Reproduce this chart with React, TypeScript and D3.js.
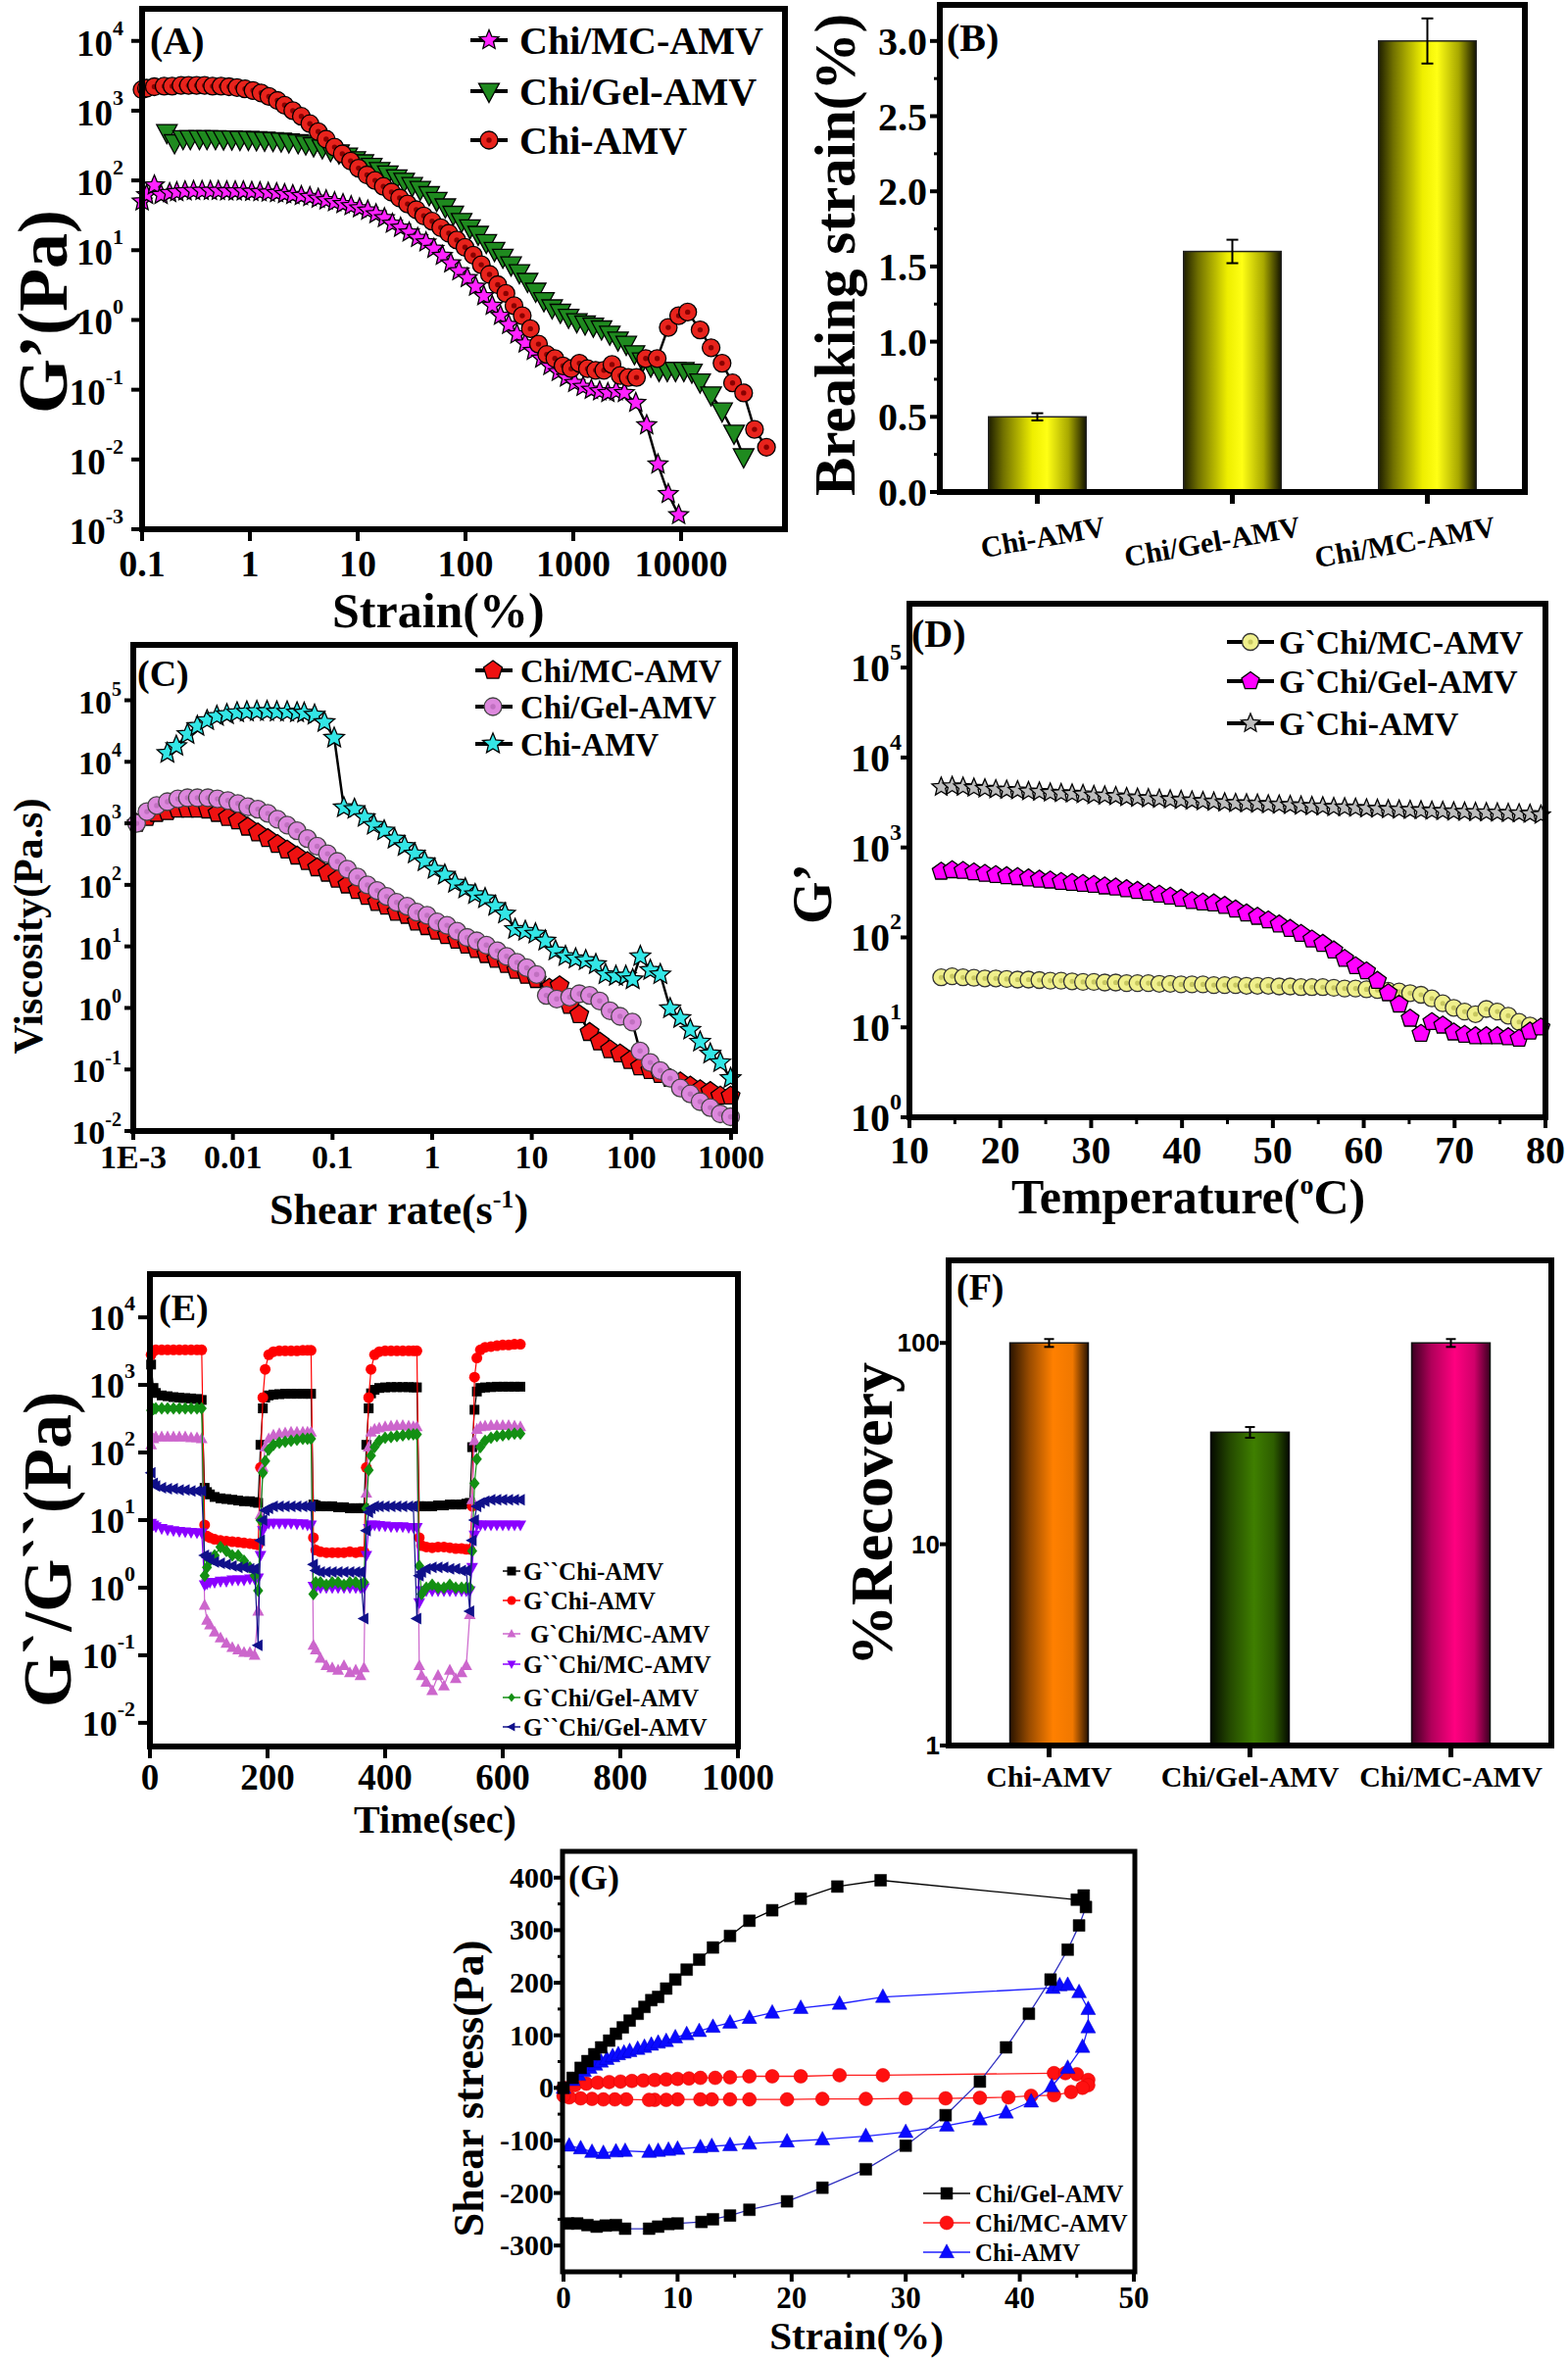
import React from "react";
import * as d3 from "d3";

type Pt = [number, number];
const SERIF = "'Liberation Serif','Times New Roman',Times,serif";
const SANS = "'Liberation Sans',Arial,Helvetica,sans-serif";

// ---------------- Panel A data ----------------
const aLegend = ["Chi/MC-AMV", "Chi/Gel-AMV", "Chi-AMV"];
const aXTicks = [0.1, 1, 10, 100, 1000, 10000];
const aXTickLabels = ["0.1", "1", "10", "100", "1000", "10000"];
const aYExp = [-3, -2, -1, 0, 1, 2, 3, 4];
const aMC: Pt[] = [[0.1,50],[0.11,62],[0.13,85],[0.15,62],[0.18,66],[0.21,68],[0.25,70],[0.3,71],[0.36,71],[0.43,71],[0.51,71],[0.61,70],[0.73,70],[0.87,70],[1.04,69],[1.24,68],[1.48,67],[1.77,66],[2.1,64],[2.5,62],[3.0,60],[3.6,58],[4.3,55],[5.1,52],[6.1,49],[7.3,46],[8.7,43],[10.4,40],[12.4,37],[14.8,33],[17.7,29],[21,24],[25,21],[30,18],[36,15],[43,13],[51,10.5],[61,8.3],[73,6.5],[87,5],[104,4],[124,3],[148,2.2],[177,1.6],[211,1.15],[252,0.85],[300,0.62],[358,0.46],[427,0.36],[510,0.28],[608,0.22],[726,0.18],[866,0.15],[1033,0.125],[1233,0.11],[1471,0.1],[1755,0.095],[2094,0.09],[2499,0.095],[2982,0.09],[3800,0.065],[4800,0.031],[6100,0.0085],[7600,0.0032],[9500,0.0016]];
const aGel: Pt[] = [[0.17,490],[0.2,350],[0.24,400],[0.28,400],[0.34,400],[0.4,400],[0.48,400],[0.57,395],[0.68,395],[0.81,390],[0.97,390],[1.15,385],[1.37,380],[1.64,375],[1.95,370],[2.3,360],[2.8,350],[3.3,335],[3.9,315],[4.7,295],[5.6,270],[6.7,250],[8,225],[9.5,200],[11.3,180],[13.5,160],[16,140],[19,125],[23,110],[27,98],[32,85],[38,75],[46,63],[54,52],[65,42],[77,33],[92,26],[110,21],[131,17],[156,13],[186,10],[222,8],[265,6.2],[316,4.8],[376,3.6],[448,2.6],[534,1.9],[637,1.5],[759,1.3],[905,1.1],[1079,0.95],[1286,0.88],[1533,0.82],[1827,0.75],[2178,0.63],[2596,0.52],[3095,0.45],[3690,0.33],[4400,0.26],[5240,0.22],[6250,0.19],[7450,0.19],[8880,0.19],[10600,0.19],[12600,0.18],[15000,0.13],[19000,0.085],[24000,0.05],[31000,0.024],[38000,0.011]];
const aChi: Pt[] = [[0.1,2000],[0.11,2100],[0.13,2200],[0.16,2250],[0.19,2250],[0.23,2300],[0.27,2300],[0.32,2300],[0.38,2300],[0.45,2250],[0.54,2250],[0.64,2200],[0.76,2150],[0.9,2050],[1.07,1950],[1.27,1800],[1.5,1600],[1.8,1400],[2.1,1200],[2.5,1000],[3,830],[3.6,650],[4.3,500],[5.1,390],[6.1,300],[7.2,240],[8.6,190],[10.2,150],[12.2,120],[14.5,100],[17.3,82],[20.6,68],[24.5,56],[29,46],[35,38],[41,31],[49,26],[59,21],[70,17.5],[83,14],[99,11],[118,8.5],[140,6.2],[167,4.5],[199,3.2],[237,2.4],[282,1.6],[336,1.15],[400,0.75],[476,0.45],[567,0.32],[675,0.28],[803,0.22],[956,0.2],[1138,0.24],[1355,0.2],[1613,0.19],[1920,0.19],[2286,0.23],[2721,0.16],[3239,0.15],[3856,0.15],[4700,0.28],[6000,0.28],[7600,0.78],[9500,1.15],[11500,1.3],[15000,0.72],[19000,0.4],[24000,0.24],[30000,0.125],[38000,0.09],[48000,0.027],[62000,0.015]];

// ---------------- Panel B data ----------------
const bCats = ["Chi-AMV", "Chi/Gel-AMV", "Chi/MC-AMV"];
const bVals = [0.5, 1.6, 3.0];
const bErr = [0.024, 0.078, 0.15];
const bYTicks = [0, 0.5, 1, 1.5, 2, 2.5, 3];
const bYTickLabels = ["0.0", "0.5", "1.0", "1.5", "2.0", "2.5", "3.0"];
const bYMinor = [0.25, 0.75, 1.25, 1.75, 2.25, 2.75];

// ---------------- Panel C data ----------------
const cLegend = ["Chi/MC-AMV", "Chi/Gel-AMV", "Chi-AMV"];
const cXTicks = [0.001, 0.01, 0.1, 1, 10, 100, 1000];
const cXTickLabels = ["1E-3", "0.01", "0.1", "1", "10", "100", "1000"];
const cYExp = [-2, -1, 0, 1, 2, 3, 4, 5];
const cMC: Pt[] = [[0.00108,1000],[0.00137,1250],[0.00172,1450],[0.0022,1550],[0.0028,1700],[0.0035,1700],[0.0044,1700],[0.0056,1650],[0.007,1450],[0.0089,1250],[0.0112,1100],[0.0141,870],[0.0178,700],[0.0224,565],[0.028,455],[0.035,370],[0.044,295],[0.056,240],[0.07,190],[0.089,155],[0.112,124],[0.141,100],[0.178,81],[0.224,65],[0.28,52],[0.35,45],[0.44,36],[0.56,32],[0.7,25],[0.89,21],[1.12,17.7],[1.41,15],[1.78,12.6],[2.24,10.5],[2.8,8.9],[3.5,7.4],[4.4,6.2],[5.6,5.1],[7,4.1],[8.9,3.4],[11.2,2.9],[15,2.1],[19,2.3],[24,1.1],[30,0.78],[38,0.4],[48,0.28],[61,0.21],[77,0.18],[97,0.14],[122,0.11],[155,0.096],[195,0.083],[245,0.072],[310,0.063],[390,0.054],[490,0.047],[620,0.044],[780,0.037],[990,0.037]];
const cGel: Pt[] = [[0.00108,1000],[0.00137,1550],[0.00172,1950],[0.0022,2250],[0.0028,2500],[0.0035,2600],[0.0044,2600],[0.0056,2600],[0.007,2500],[0.0089,2350],[0.0112,2100],[0.0141,1860],[0.0178,1700],[0.0224,1450],[0.028,1170],[0.035,940],[0.044,760],[0.056,565],[0.07,425],[0.089,320],[0.112,240],[0.141,180],[0.178,134],[0.224,100],[0.28,81],[0.35,65],[0.44,52],[0.56,45],[0.7,36],[0.89,32],[1.12,25],[1.41,22],[1.78,17.7],[2.24,14],[2.8,12.3],[3.5,10.5],[4.5,8.5],[5.6,6.9],[7.1,5.5],[8.9,4.5],[11.2,3.5],[14,1.6],[17.8,1.4],[24,1.5],[30,1.7],[38,1.6],[48,1.3],[61,0.9],[77,0.73],[102,0.59],[122,0.2],[155,0.13],[195,0.096],[245,0.072],[310,0.05],[390,0.04],[490,0.03],[620,0.024],[780,0.019],[990,0.017]];
const cChi: Pt[] = [[0.0022,13800],[0.0027,18000],[0.0035,28000],[0.0044,38000],[0.0055,47000],[0.0069,55000],[0.0087,59000],[0.011,63000],[0.0138,65000],[0.0174,66000],[0.022,66000],[0.0276,65000],[0.035,65000],[0.044,63000],[0.052,62000],[0.066,58000],[0.083,44000],[0.104,24500],[0.13,1800],[0.166,1700],[0.21,1260],[0.26,940],[0.33,760],[0.42,560],[0.53,425],[0.67,320],[0.84,240],[1.06,180],[1.34,145],[1.7,107],[2.15,87],[2.7,70],[3.4,60],[4.3,45],[5.4,34],[6.8,19],[8.6,17.7],[10.9,16],[13.7,12.3],[17.3,8.5],[21.8,6.9],[27.6,6.3],[34.8,5.9],[44,5.1],[55,3.5],[70,3.3],[88,3.3],[103,2.9],[123,6.9],[155,4.1],[195,3.5],[245,0.98],[310,0.68],[390,0.44],[490,0.28],[620,0.18],[780,0.13],[990,0.072]];

// ---------------- Panel D data ----------------
const dLegend = ["G`Chi/MC-AMV", "G`Chi/Gel-AMV", "G`Chi-AMV"];
const dXTicks = [10, 20, 30, 40, 50, 60, 70, 80];
const dXMinor = [15, 25, 35, 45, 55, 65, 75];
const dYExp = [0, 1, 2, 3, 4, 5];
const dChi: Pt[] = [[13.5,4700],[14.7,4800],[15.9,4700],[17.1,4600],[18.3,4500],[19.5,4400],[20.7,4350],[21.9,4300],[23.1,4200],[24.3,4150],[25.5,4050],[26.7,4000],[27.9,3950],[29.1,3900],[30.3,3800],[31.5,3750],[32.7,3700],[33.9,3600],[35.1,3550],[36.3,3500],[37.5,3450],[38.7,3400],[39.9,3350],[41.1,3300],[42.3,3250],[43.5,3200],[44.7,3150],[45.9,3100],[47.1,3080],[48.3,3050],[49.5,3000],[50.7,2980],[51.9,2950],[53.1,2900],[54.3,2870],[55.5,2850],[56.7,2800],[57.9,2780],[59.1,2750],[60.3,2700],[61.5,2680],[62.7,2650],[63.9,2630],[65.1,2600],[66.3,2580],[67.5,2550],[68.7,2530],[69.9,2500],[71.1,2480],[72.3,2460],[73.5,2450],[74.7,2430],[75.9,2400],[77.1,2380],[78.3,2350],[79.5,2300]];
const dGel: Pt[] = [[13.5,540],[14.7,560],[15.9,550],[17.1,530],[18.3,510],[19.5,495],[20.7,480],[21.9,470],[23.1,455],[24.3,440],[25.5,430],[26.7,415],[27.9,405],[29.1,395],[30.3,385],[31.5,370],[32.7,360],[33.9,345],[35.1,330],[36.3,315],[37.5,300],[38.7,285],[39.9,270],[41.1,255],[42.3,245],[43.5,240],[44.7,225],[45.9,205],[47.1,185],[48.3,170],[49.5,155],[50.7,140],[51.9,125],[53.1,110],[54.3,95],[55.5,85],[56.7,72],[57.9,58],[59.1,48],[60.3,42],[61.5,33],[62.7,24],[63.9,18],[65.1,12.5],[66.3,8.5],[67.5,11.5],[68.7,10.5],[69.9,8.8],[71.1,8.3],[72.3,8],[73.5,8],[74.7,8],[75.9,7.8],[77.1,7.5],[78.3,9],[79.5,10]];
const dMC: Pt[] = [[13.5,36],[14.7,37],[15.9,36],[17.1,35.5],[18.3,35],[19.5,35],[20.7,34.5],[21.9,34],[23.1,34],[24.3,33.5],[25.5,33],[26.7,33],[27.9,32.5],[29.1,32],[30.3,32],[31.5,31.5],[32.7,31.5],[33.9,31],[35.1,31],[36.3,31],[37.5,30.5],[38.7,30.5],[39.9,30],[41.1,30],[42.3,30],[43.5,29.5],[44.7,29.5],[45.9,29.5],[47.1,29],[48.3,29],[49.5,29],[50.7,28.5],[51.9,28.5],[53.1,28],[54.3,28],[55.5,28],[56.7,27.5],[57.9,27],[59.1,27],[60.3,26.5],[61.5,26],[62.7,25.5],[63.9,25],[65.1,24],[66.3,23],[67.5,21],[68.7,18.5],[69.9,16.5],[71.1,15],[72.3,14],[73.5,16],[74.7,15],[75.9,13.5],[77.1,11.5],[78.3,10.5]];

// ---------------- Panel E data ----------------
const eLegend = ["G``Chi-AMV", "G`Chi-AMV", "G`Chi/MC-AMV", "G``Chi/MC-AMV", "G`Chi/Gel-AMV", "G``Chi/Gel-AMV"];
const eXTicks = [0, 200, 400, 600, 800, 1000];
const eYExp = [-2, -1, 0, 1, 2, 3, 4];
const eTime = [2,6,10,20,30,40,50,60,70,80,88, 93,97,102,110,120,130,140,150,160,170,178,184, 188,192,196,202,210,220,230,240,250,260,268,274, 278,282,290,300,310,320,330,340,350,358,364, 368,372,376,382,390,400,410,420,430,440,448,454, 458,462,470,480,490,500,510,520,530,538,544, 548,552,556,562,570,580,590,600,610,620,630];
const eGppChi = [2000,900,760,700,680,660,650,640,630,620,600, 30,26,24,22,21,20.5,20,19.5,19,19,18.5,18, 130,450,650,700,720,730,740,740,740,740,740,740, 17,16.5,16,16,16,15.5,15.5,15,15,15,15, 130,450,750,850,900,920,930,930,930,930,920,920, 16,16,16,16,16.5,16.5,17,17,17,17.5,18, 120,430,800,900,920,930,940,940,940,940,940];
const eGpChi = [2800,3200,3300,3300,3300,3300,3300,3300,3300,3300,3300, 8.5,5.8,5.5,5.2,5.0,4.9,4.8,4.7,4.6,4.5,4.4,4.3, 60,650,1700,2800,3100,3200,3200,3200,3200,3250,3250,3250, 5.5,3.6,3.4,3.3,3.3,3.3,3.3,3.4,3.3,3.4,3.4, 60,650,1700,2800,3100,3200,3200,3200,3200,3200,3200,3200, 5.5,4.2,4.0,3.9,4.0,4.0,3.9,3.8,3.8,3.7,3.7, 16,1300,2500,3300,3600,3700,3800,3900,3900,4000,4000];
const eGpMC = [130,160,170,170,170,170,170,170,165,165,160, 0.55,0.33,0.28,0.22,0.18,0.15,0.13,0.12,0.11,0.11,0.1,0.45, 12,60,120,160,180,190,195,200,200,200,200,200, 0.14,0.12,0.09,0.07,0.065,0.06,0.07,0.055,0.06,0.05,0.065, 25,120,200,220,230,240,245,250,250,245,240,240, 0.07,0.05,0.04,0.03,0.05,0.035,0.06,0.045,0.055,0.07,0.4, 20,150,220,240,245,250,250,250,250,245,240];
const eGppMC = [9,8.5,8,7.5,7.2,7,6.8,6.7,6.6,6.5,6.5, 1.1,1.15,1.2,1.2,1.25,1.25,1.3,1.3,1.3,1.35,1.35,1.4, 3,7,8.5,9,9,9,9,9,8.8,8.8,8.5,8.5, 1.05,1.0,1.0,1.0,1.0,1.0,1.0,1.0,1.0,1.0,1.0, 3,7.5,8.5,8.5,8.3,8.2,8,8,8,7.8,7.8,7.8, 0.6,0.9,0.9,0.9,0.9,0.9,0.9,0.9,0.9,0.9,0.9, 2,6,8.5,8.5,8.5,8.5,8.5,8.5,8.5,8.5,8.5];
const eGpGel = [420,440,450,450,450,450,450,450,450,450,450, 1.5,2,2.5,3,4,3.5,3,3,2.5,2,1.5,0.9, 10,50,75,110,130,140,145,150,155,160,160,160, 0.8,1.2,1.2,1.1,1.2,1.2,1.1,1.2,1.2,1.1,1.2, 15,55,90,120,150,165,170,175,180,185,185,185, 2.1,0.8,1.0,1.1,1.0,1.0,1.1,1.0,1.0,1.0,1.0, 3.5,35,80,120,150,165,175,180,185,190,190];
const eGppGel = [50,35,32,30,29,29,28,28,27,27,27, 3,2.8,2.6,2.4,2.3,2.2,2.1,2.0,2.0,1.9,1.9,0.14, 5,10,14,15,16,16,16,16,16,16,16,16, 2.2,1.8,1.7,1.7,1.7,1.7,1.7,1.7,1.7,1.7,0.35, 7,13,15,16,16,16,16,16,16,16,16,0.35, 1.5,1.7,1.9,2.0,2.0,2.0,1.9,1.9,1.8,1.8,0.45, 5,10,16,18,19,20,20,20,20,20,20];

// ---------------- Panel F data ----------------
const fCats = ["Chi-AMV", "Chi/Gel-AMV", "Chi/MC-AMV"];
const fVals = [100, 36, 100];
const fErr = [4.5, 2.2, 4.5];
const fYTicks = [1, 10, 100];

// ---------------- Panel G data ----------------
const gLegend = ["Chi/Gel-AMV", "Chi/MC-AMV", "Chi-AMV"];
const gXTicks = [0, 10, 20, 30, 40, 50];
const gXMinor = [5, 15, 25, 35, 45];
const gYTicks = [-300, -200, -100, 0, 100, 200, 300, 400];
const gYMinor = [-250, -150, -50, 50, 150, 250, 350];
const gGel: Pt[] = [[0,0],[0.8,19],[1.5,38],[2.1,51],[2.7,64],[3.3,77],[4,90],[4.6,103],[5.2,115],[5.8,128],[6.5,141],[7.1,154],[7.7,167],[8.3,173],[9,189],[9.8,206],[10.8,225],[11.9,244],[13.1,267],[14.6,289],[16.3,318],[18.3,338],[20.8,360],[24,383],[27.8,395],[45,358],[45.6,366],[45.8,344],[45.2,309],[44.2,263],[42.7,206],[40.8,141],[38.8,77],[36.5,12],[33.5,-52],[30,-110],[26.5,-155],[22.7,-190],[19.6,-216],[16.3,-232],[14.6,-243],[13.1,-250],[12.1,-255],[10,-258],[9.2,-259],[8.3,-264],[7.5,-268],[5.4,-268],[4.6,-261],[3.7,-262],[2.9,-264],[2.1,-261],[1.2,-258],[0.4,-258]];
const gMC: Pt[] = [[0,0],[1,5],[2,8],[3,10],[4,11],[5,12],[6,13],[7,14],[8,15],[9,16],[10,17],[11,18],[12,19],[13.3,19],[14.6,20],[16.3,22],[18.3,22],[20.8,22],[24.2,24],[28,24],[43,28],[44,28],[45,26],[46,15],[46,5],[45.5,0],[44.5,-8],[43,-14],[41,-15],[39,-18],[36.5,-19],[33.5,-20],[30,-20],[26.5,-21],[22.7,-21],[19.6,-22],[16.3,-22],[14.6,-22],[13,-22],[12,-22],[10,-22],[9,-23],[8,-23],[7.5,-23],[5.5,-22],[4.5,-22],[3.5,-22],[2.5,-21],[1.5,-20],[0.5,-18],[0,-15]];
const gChi: Pt[] = [[0,0],[0.8,15],[1.3,25],[1.8,32],[2.3,38],[2.8,44],[3.3,50],[3.8,55],[4.3,60],[4.8,64],[5.3,67],[5.8,70],[6.5,74],[7.1,78],[7.7,82],[8.3,86],[9,89],[9.8,96],[10.8,102],[11.9,108],[13.1,116],[14.6,124],[16.3,133],[18.3,143],[20.8,152],[24.2,160],[28,173],[42.9,190],[43.5,195],[44.2,196],[45.2,182],[46,150],[46,115],[45.5,78],[44.2,38],[42.8,3],[41,-26],[38.8,-47],[36.5,-60],[33.6,-72],[30,-84],[26.5,-92],[22.7,-98],[19.6,-102],[16.3,-106],[14.6,-109],[13,-111],[12,-113],[10,-116],[9.2,-118],[8.3,-120],[7.5,-122],[5.4,-120],[4.6,-121],[3.5,-124],[2.5,-122],[1.5,-115],[0.5,-110]];

// ---------------- helpers ----------------
function poly(pts: number[][]): string {
  return "M" + pts.map((p) => p[0].toFixed(2) + "," + p[1].toFixed(2)).join("L") + "Z";
}
function shape(kind: string, s: number): string {
  const r = s / 2;
  switch (kind) {
    case "square": return poly([[-r, -r], [r, -r], [r, r], [-r, r]]);
    case "circle": return `M${r},0A${r},${r} 0 1,1 ${-r},0A${r},${r} 0 1,1 ${r},0Z`;
    case "triUp": return poly([[0, -r * 1.1], [r, r * 0.75], [-r, r * 0.75]]);
    case "triDown": return poly([[0, r * 1.1], [r, -r * 0.75], [-r, -r * 0.75]]);
    case "triLeft": return poly([[-r * 1.1, 0], [r * 0.75, -r], [r * 0.75, r]]);
    case "diamond": return poly([[0, -r], [r * 0.8, 0], [0, r], [-r * 0.8, 0]]);
    case "star": {
      const pts: number[][] = [];
      for (let i = 0; i < 10; i++) {
        const a = -Math.PI / 2 + (i * Math.PI) / 5;
        const rr = i % 2 === 0 ? r : r * 0.45;
        pts.push([rr * Math.cos(a), rr * Math.sin(a)]);
      }
      return poly(pts);
    }
    case "pentagon": {
      const pts: number[][] = [];
      for (let i = 0; i < 5; i++) {
        const a = -Math.PI / 2 + (i * 2 * Math.PI) / 5;
        pts.push([r * Math.cos(a), r * Math.sin(a)]);
      }
      return poly(pts);
    }
  }
  return "";
}

function Marks({ data, x, y, kind, size, fill, stroke = "#000", sw = 1.3, inner }: any) {
  const p = shape(kind, size);
  return (
    <g>
      {data.map((d: Pt, i: number) => (
        <g key={i} transform={`translate(${x(d[0]).toFixed(1)},${y(d[1]).toFixed(1)})`}>
          <path d={p} fill={fill} stroke={stroke} strokeWidth={sw} />
          {inner && <circle r={size * 0.15} fill={inner} />}
        </g>
      ))}
    </g>
  );
}
function Line({ data, x, y, color, w }: any) {
  const gen = d3.line<Pt>().x((d) => x(d[0])).y((d) => y(d[1]));
  return <path d={gen(data) || ""} fill="none" stroke={color} strokeWidth={w} strokeLinejoin="round" />;
}
function Series(props: any) {
  return (
    <g>
      {props.line && <Line data={props.data} x={props.x} y={props.y} color={props.line} w={props.lw || 2} />}
      <Marks {...props} />
    </g>
  );
}
function LogYLabels({ y, exps, xr, fs, efs, base, sup }: any) {
  return (
    <g>
      {exps.map((e: number) => (
        <text key={e} x={xr} y={y(Math.pow(10, e)) + base} textAnchor="end" fontSize={fs}>
          10<tspan dy={-sup} fontSize={efs}>{String(e)}</tspan>
        </text>
      ))}
    </g>
  );
}
function YTicks({ y, vals, x0, len, w = 4 }: any) {
  return <g>{vals.map((v: number, i: number) => <line key={i} x1={x0 - len} x2={x0} y1={y(v)} y2={y(v)} stroke="#000" strokeWidth={w} />)}</g>;
}
function XTicks({ x, vals, y0, len, w = 4 }: any) {
  return <g>{vals.map((v: any, i: number) => <line key={i} x1={x(v)} x2={x(v)} y1={y0} y2={y0 + len} stroke="#000" strokeWidth={w} />)}</g>;
}
function Frame({ x0, y0, x1, y1, w = 6 }: any) {
  return <rect x={x0} y={y0} width={x1 - x0} height={y1 - y0} fill="none" stroke="#000" strokeWidth={w} />;
}
function VLabel({ x, y, fs, children }: any) {
  return (
    <text transform={`translate(${x},${y}) rotate(-90)`} textAnchor="middle" fontSize={fs}>
      {children}
    </text>
  );
}
function LegendRow({ x, y, lineFrom, lineTo, kind, size, fill, stroke = "#000", sw = 1.3, line, lw = 3, text, tx, fs, base, inner }: any) {
  const p = shape(kind, size);
  return (
    <g>
      {line && <line x1={lineFrom} x2={lineTo} y1={y} y2={y} stroke={line} strokeWidth={lw} />}
      <g transform={`translate(${x},${y})`}>
        <path d={p} fill={fill} stroke={stroke} strokeWidth={sw} />
        {inner && <circle r={size * 0.15} fill={inner} />}
      </g>
      <text x={tx} y={y + base} fontSize={fs}>{text}</text>
    </g>
  );
}

// ---------------- Panels ----------------
function PanelA() {
  const x = d3.scaleLog().domain([0.1, 92000]).range([145, 801]);
  const y = d3.scaleLog().domain([1e-3, Math.pow(10, 4.46)]).range([540, 9]);
  const styles = [
    { kind: "star", size: 21, fill: "#ff22ff" },
    { kind: "triDown", size: 21, fill: "#1f8a1f" },
    { kind: "circle", size: 18, fill: "#e8231c", inner: "#8a0000" },
  ];
  const series = [aMC, aGel, aChi];
  const rows = [41, 93, 143];
  return (
    <g>
      {series.map((s, i) => (
        <Series key={i} data={s} x={x} y={y} {...styles[i]} line="#000" lw={2.5} />
      ))}
      <Frame x0={145} y0={9} x1={801} y1={540} />
      <YTicks y={y} vals={aYExp.map((e) => Math.pow(10, e))} x0={145} len={11} />
      <XTicks x={x} vals={aXTicks} y0={540} len={12} />
      <LogYLabels y={y} exps={aYExp} xr={126} fs={37} efs={22} base={15} sup={21} />
      {aXTicks.map((t, i) => (
        <text key={i} x={x(t)} y={588} textAnchor="middle" fontSize={38}>{aXTickLabels[i]}</text>
      ))}
      <text x={339} y={640} fontSize={50}>Strain(%)</text>
      <VLabel x={68} y={318} fs={72}>G’(Pa)</VLabel>
      <text x={153} y={55} fontSize={40}>(A)</text>
      {aLegend.map((t, i) => (
        <LegendRow key={i} x={499} y={rows[i]} lineFrom={480} lineTo={518} {...styles[i]} line="#000" lw={4} text={t} tx={530} fs={40} base={14} />
      ))}
    </g>
  );
}

function PanelB() {
  const x = d3.scaleBand<string>().domain(bCats).range([959, 1556]).paddingInner(0.5).paddingOuter(0.25);
  const y = d3.scaleLinear().domain([0, 3.24]).range([502, 5]);
  const bw = x.bandwidth();
  return (
    <g>
      <defs>
        <linearGradient id="gradY" x1="0" x2="1" y1="0" y2="0">
          <stop offset="0" stopColor="#1e1e00" />
          <stop offset="0.15" stopColor="#707000" />
          <stop offset="0.45" stopColor="#eeee00" />
          <stop offset="0.6" stopColor="#ffff14" />
          <stop offset="0.82" stopColor="#a8a800" />
          <stop offset="1" stopColor="#141400" />
        </linearGradient>
      </defs>
      {bCats.map((c, i) => {
        const cx = (x(c) as number) + bw / 2;
        return (
          <g key={c}>
            <rect x={x(c)} y={y(bVals[i])} width={bw} height={502 - y(bVals[i])} fill="url(#gradY)" stroke="#222" strokeWidth={1.5} />
            <line x1={cx} x2={cx} y1={y(bVals[i] - bErr[i])} y2={y(bVals[i] + bErr[i])} stroke="#000" strokeWidth={2} />
            <line x1={cx - 6} x2={cx + 6} y1={y(bVals[i] - bErr[i])} y2={y(bVals[i] - bErr[i])} stroke="#000" strokeWidth={2} />
            <line x1={cx - 6} x2={cx + 6} y1={y(bVals[i] + bErr[i])} y2={y(bVals[i] + bErr[i])} stroke="#000" strokeWidth={2} />
            <line x1={cx} x2={cx} y1={502} y2={514} stroke="#000" strokeWidth={5} />
            <text transform={`translate(${cx + 69},${537}) rotate(-10)`} y={10} textAnchor="end" fontSize={30}>{c}</text>
          </g>
        );
      })}
      <Frame x0={959} y0={5} x1={1556} y1={502} />
      <YTicks y={y} vals={bYTicks} x0={959} len={10} />
      <YTicks y={y} vals={bYMinor} x0={959} len={6} w={3} />
      {bYTicks.map((t, i) => (
        <text key={i} x={946} y={y(t) + 14} textAnchor="end" fontSize={40}>{bYTickLabels[i]}</text>
      ))}
      <VLabel x={872} y={260} fs={59}>Breaking strain(%)</VLabel>
      <text x={966} y={52} fontSize={40}>(B)</text>
    </g>
  );
}

function PanelC() {
  const x = d3.scaleLog().domain([1e-3, Math.pow(10, 3.04)]).range([136, 750]);
  const y = d3.scaleLog().domain([1e-2, Math.pow(10, 5.9)]).range([1154, 658]);
  const styles = [
    { kind: "pentagon", size: 20, fill: "#ee1111" },
    { kind: "circle", size: 18, fill: "#dd88dd", stroke: "#444", inner: "#c070c0" },
    { kind: "star", size: 22, fill: "#33e6e6" },
  ];
  const series = [cMC, cGel, cChi];
  const rows = [684, 721, 759];
  return (
    <g>
      {series.map((s, i) => (
        <Series key={i} data={s} x={x} y={y} {...styles[i]} line="#000" lw={2.5} />
      ))}
      <Frame x0={136} y0={658} x1={750} y1={1154} />
      <YTicks y={y} vals={cYExp.map((e) => Math.pow(10, e))} x0={136} len={9} />
      <XTicks x={x} vals={cXTicks} y0={1154} len={9} />
      <LogYLabels y={y} exps={cYExp} xr={124} fs={34} efs={20} base={13} sup={18} />
      {cXTicks.map((t, i) => (
        <text key={i} x={x(t)} y={1192} textAnchor="middle" fontSize={34}>{cXTickLabels[i]}</text>
      ))}
      <text x={275} y={1249} fontSize={44}>
        Shear rate(s<tspan dy={-17} fontSize={26}>-1</tspan><tspan dy={17}>)</tspan>
      </text>
      <VLabel x={43} y={945} fs={42}>Viscosity(Pa.s)</VLabel>
      <text x={140} y={700} fontSize={38}>(C)</text>
      {cLegend.map((t, i) => (
        <LegendRow key={i} x={503} y={rows[i]} lineFrom={485} lineTo={523} {...styles[i]} line="#000" lw={4} text={t} tx={531} fs={33} base={12} />
      ))}
    </g>
  );
}

function PanelD() {
  const x = d3.scaleLinear().domain([10, 80]).range([928, 1577]);
  const y = d3.scaleLog().domain([1, Math.pow(10, 5.71)]).range([1140, 616]);
  const styles = [
    { kind: "circle", size: 17, fill: "#f0f08c", stroke: "#333", inner: "#c8c860" },
    { kind: "pentagon", size: 19, fill: "#ff00ff" },
    { kind: "star", size: 20, fill: "#bdbdbd" },
  ];
  const series = [dMC, dGel, dChi];
  const rows = [655, 695, 738];
  return (
    <g>
      {series.map((s, i) => (
        <Series key={i} data={s} x={x} y={y} {...styles[i]} line="#000" lw={2} />
      ))}
      <Frame x0={928} y0={616} x1={1577} y1={1140} />
      <YTicks y={y} vals={dYExp.map((e) => Math.pow(10, e))} x0={928} len={9} />
      <XTicks x={x} vals={dXTicks} y0={1140} len={11} />
      <XTicks x={x} vals={dXMinor} y0={1140} len={7} w={3} />
      <LogYLabels y={y} exps={dYExp} xr={920} fs={40} efs={24} base={14} sup={22} />
      {dXTicks.map((t, i) => (
        <text key={i} x={x(t)} y={1187} textAnchor="middle" fontSize={40}>{t}</text>
      ))}
      <text x={1032} y={1238} fontSize={50}>
        Temperature(<tspan dy={-20} fontSize={28}>o</tspan><tspan dy={20}>C)</tspan>
      </text>
      <VLabel x={848} y={912} fs={56}>G’</VLabel>
      <text x={930} y={660} fontSize={40}>(D)</text>
      {dLegend.map((t, i) => (
        <LegendRow key={i} x={1276} y={rows[i]} lineFrom={1252} lineTo={1300} {...styles[i]} line="#000" lw={4} text={t} tx={1305} fs={34} base={12} />
      ))}
    </g>
  );
}

function PanelE() {
  const x = d3.scaleLinear().domain([0, 1000]).range([153, 753]);
  const y = d3.scaleLog().domain([Math.pow(10, -2.35), Math.pow(10, 4.64)]).range([1782, 1300]);
  const vals = [eGppChi, eGpChi, eGpMC, eGppMC, eGpGel, eGppGel];
  const styles = [
    { kind: "square", size: 10, fill: "#000", color: "#000" },
    { kind: "circle", size: 11, fill: "#ff0000", color: "#ff0000" },
    { kind: "triUp", size: 12, fill: "#cc66cc", color: "#cc66cc" },
    { kind: "triDown", size: 12, fill: "#8a00ff", color: "#8a00ff" },
    { kind: "diamond", size: 13, fill: "#138f13", color: "#138f13" },
    { kind: "triLeft", size: 12, fill: "#10108a", color: "#10108a" },
  ];
  const rows = [1603, 1633, 1667, 1698, 1732, 1762];
  return (
    <g>
      {vals.map((v, i) => {
        const data: Pt[] = eTime.slice(0, v.length).map((t, j) => [t, v[j]] as Pt);
        return (
          <Series key={i} data={data} x={x} y={y} kind={styles[i].kind} size={styles[i].size} fill={styles[i].fill} stroke="none" sw={0} line={styles[i].color} lw={1.2} />
        );
      })}
      <Frame x0={153} y0={1300} x1={753} y1={1782} />
      <YTicks y={y} vals={eYExp.map((e) => Math.pow(10, e))} x0={153} len={12} />
      <XTicks x={x} vals={eXTicks} y0={1782} len={12} />
      <LogYLabels y={y} exps={eYExp} xr={138} fs={36} efs={22} base={13} sup={20} />
      {eXTicks.map((t, i) => (
        <text key={i} x={x(t)} y={1826} textAnchor="middle" fontSize={37}>{t}</text>
      ))}
      <text x={444} y={1870} textAnchor="middle" fontSize={40}>Time(sec)</text>
      <VLabel x={72} y={1581} fs={70}>G`/G``(Pa)</VLabel>
      <text x={162} y={1347} fontSize={38}>(E)</text>
      {eLegend.map((t, i) => (
        <LegendRow key={i} x={522} y={rows[i]} lineFrom={513} lineTo={531} kind={styles[i].kind} size={9} fill={styles[i].fill} stroke="none" sw={0} line={styles[i].color} lw={1.5} text={t} tx={i === 2 ? 541 : 534} fs={25} base={9} />
      ))}
    </g>
  );
}

function PanelF() {
  const x = d3.scaleBand<string>().domain(fCats).range([968, 1583]).paddingInner(0.61).paddingOuter(0.305);
  const y = d3.scaleLog().domain([1, Math.pow(10, 2.41)]).range([1781, 1286]);
  const bw = x.bandwidth();
  const grads = [
    { id: "gradO", stops: ["#2a1400", "#9a4c00", "#ff8000", "#f07800", "#2a1400"] },
    { id: "gradG", stops: ["#050a00", "#254a00", "#3f7f00", "#2e5e00", "#050a00"] },
    { id: "gradP", stops: ["#3a0020", "#b0005a", "#ff0080", "#d0006a", "#3a0020"] },
  ];
  const offs = [0, 0.25, 0.55, 0.8, 1];
  return (
    <g>
      <defs>
        {grads.map((g) => (
          <linearGradient key={g.id} id={g.id} x1="0" x2="1" y1="0" y2="0">
            {g.stops.map((s, i) => <stop key={i} offset={offs[i]} stopColor={s} />)}
          </linearGradient>
        ))}
      </defs>
      {fCats.map((c, i) => {
        const cx = (x(c) as number) + bw / 2;
        return (
          <g key={c}>
            <rect x={x(c)} y={y(fVals[i])} width={bw} height={1781 - y(fVals[i])} fill={`url(#${grads[i].id})`} stroke="#111" strokeWidth={1.5} />
            <line x1={cx} x2={cx} y1={y(fVals[i] - fErr[i])} y2={y(fVals[i] + fErr[i])} stroke="#000" strokeWidth={2} />
            <line x1={cx - 5} x2={cx + 5} y1={y(fVals[i] - fErr[i])} y2={y(fVals[i] - fErr[i])} stroke="#000" strokeWidth={2} />
            <line x1={cx - 5} x2={cx + 5} y1={y(fVals[i] + fErr[i])} y2={y(fVals[i] + fErr[i])} stroke="#000" strokeWidth={2} />
            <line x1={cx} x2={cx} y1={1781} y2={1793} stroke="#000" strokeWidth={5} />
            <text x={cx} y={1823} textAnchor="middle" fontSize={30}>{c}</text>
          </g>
        );
      })}
      <Frame x0={968} y0={1286} x1={1583} y1={1781} />
      <YTicks y={y} vals={fYTicks} x0={968} len={9} />
      {fYTicks.map((t) => (
        <text key={t} x={959} y={y(t) + 9} textAnchor="end" fontSize={26} fontFamily={SANS}>{t}</text>
      ))}
      <VLabel x={910} y={1545} fs={62}>%Recovery</VLabel>
      <text x={976} y={1326} fontSize={38}>(F)</text>
    </g>
  );
}

function PanelG() {
  const x = d3.scaleLinear().domain([0, 50]).range([575, 1157]);
  const y = d3.scaleLinear().domain([-350, 450]).range([2318, 1889]);
  const styles = [
    { kind: "square", size: 12, fill: "#000", stroke: "#000", sw: 0.5, color: "#000" },
    { kind: "circle", size: 14, fill: "#ff1010", stroke: "#d00", sw: 0.5, color: "#ff2020" },
    { kind: "triUp", size: 15, fill: "#0a0aff", stroke: "#00c", sw: 0.5, color: "#2020ff" },
  ];
  const rows = [2238, 2268, 2298];
  return (
    <g>
      <Line data={gMC} x={x} y={y} color="#ff2020" w={1.3} />
      <Marks data={gMC} x={x} y={y} {...styles[1]} />
      <Line data={gChi} x={x} y={y} color="#2020ff" w={1.3} />
      <Marks data={gChi} x={x} y={y} {...styles[2]} />
      <Line data={gGel.slice(0, 28)} x={x} y={y} color="#000" w={1.3} />
      <Line data={gGel.slice(27)} x={x} y={y} color="#3030c0" w={1.3} />
      <Marks data={gGel} x={x} y={y} {...styles[0]} />
      <Frame x0={574} y0={1889} x1={1158} y1={2318} w={5} />
      <YTicks y={y} vals={gYTicks} x0={574} len={9} />
      <YTicks y={y} vals={gYMinor} x0={574} len={5} w={3} />
      <XTicks x={x} vals={gXTicks} y0={2318} len={10} />
      <XTicks x={x} vals={gXMinor} y0={2318} len={6} w={3} />
      {gYTicks.map((t) => (
        <text key={t} x={565} y={y(t) + 10} textAnchor="end" fontSize={30}>{t}</text>
      ))}
      {gXTicks.map((t) => (
        <text key={t} x={x(t)} y={2355} textAnchor="middle" fontSize={31}>{t}</text>
      ))}
      <text x={874} y={2397} textAnchor="middle" fontSize={41}>Strain(%)</text>
      <VLabel x={493} y={2131} fs={44}>Shear stress(Pa)</VLabel>
      <text x={580} y={1928} fontSize={36}>(G)</text>
      {gLegend.map((t, i) => (
        <LegendRow key={i} x={966} y={rows[i]} lineFrom={942} lineTo={990} kind={styles[i].kind} size={styles[i].size} fill={styles[i].fill} stroke={styles[i].stroke} sw={0.5} line={styles[i].color} lw={1.5} text={t} tx={995} fs={25} base={9} />
      ))}
    </g>
  );
}

export default function App() {
  return (
    <div>
      <style>{`html,body{margin:0;padding:0;background:#fff}`}</style>
      <svg width={1600} height={2409} viewBox="0 0 1600 2409" style={{ display: "block", background: "#fff" }} fontFamily={SERIF} fontWeight="bold">
        <PanelA />
        <PanelB />
        <PanelC />
        <PanelD />
        <PanelE />
        <PanelF />
        <PanelG />
      </svg>
    </div>
  );
}
